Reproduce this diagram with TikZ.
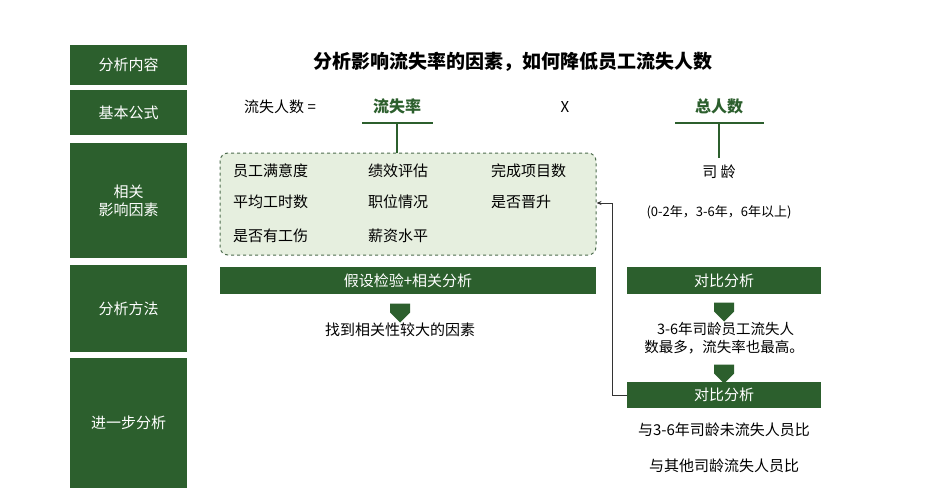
\documentclass[tikz,border=0pt]{standalone}
\usepackage{fontspec}
\newfontfamily\cjk{Noto Sans CJK SC}
\usetikzlibrary{arrows.meta,shapes.arrows}
\definecolor{dg}{HTML}{2C5F2D}
\definecolor{lg}{HTML}{E6EFDF}
\begin{document}
\begin{tikzpicture}[x=1pt,y=-1pt,font=\cjk\fontsize{15}{18}\selectfont,
 side/.style={fill=dg,text=white,inner sep=0,align=center},
 bar/.style={fill=dg,text=white,inner sep=0},
 dn/.style={single arrow,shape border rotate=270,fill=dg,minimum width=20pt,single arrow head extend=0pt,minimum height=19pt,inner sep=2pt},
 txt/.style={inner sep=0,align=center}]
\useasboundingbox (0,0) rectangle (931,500);
\fill[white] (0,0) rectangle (931,500);
\node[side,minimum width=117pt,minimum height=40pt] (s1) at (128.5,65) {分析内容};
\node[side,minimum width=117pt,minimum height=45pt] (s2) at (128.5,112.5) {基本公式};
\node[side,minimum width=117pt,minimum height=115pt] (s3) at (128.5,200.5) {相关\\影响因素};
\node[side,minimum width=117pt,minimum height=87pt] (s4) at (128.5,308.5) {分析方法};
\node[side,minimum width=117pt,minimum height=130pt] (s5) at (128.5,423) {进一步分析};
\node[txt,font=\cjk\bfseries\fontsize{19}{22}\selectfont] (t) at (513,62) {分析影响流失率的因素，如何降低员工流失人数};
\node[txt] (f) at (280,107) {流失人数 =};
\node[txt,text=dg,font=\cjk\bfseries\fontsize{16}{19}\selectfont] (r) at (397,106) {流失率};
\node[txt] (x) at (565,107) {X};
\node[txt,text=dg,font=\cjk\bfseries\fontsize{16}{19}\selectfont] (n) at (719,106) {总人数};
\draw[dg,line width=2pt] (362,123) -- (433,123);
\draw[dg,line width=2pt] (675,123) -- (764,123);
\node[draw=dg!60!gray,dashed,fill=lg,rounded corners=8pt,minimum width=376pt,minimum height=102pt,line width=1pt] (box) at (408,204) {};
\draw[dg,line width=1.5pt] (397,123) -- (397,153);
\draw[dg,line width=1.5pt] (719,123) -- (719,158);
\node[txt] (sl) at (719,172) {司 龄};
\node[txt,font=\cjk\fontsize{13}{16}\selectfont] (sr) at (719,212) {(0-2年，3-6年，6年以上)};
\foreach \t/\x/\y [count=\i] in {员工满意度/233/171,绩效评估/368/171,完成项目数/491/171,平均工时数/233/202,职位情况/368/202,是否晋升/491/202,是否有工伤/233/236,薪资水平/368/236}
  \node[txt,anchor=west] (i\i) at (\x,\y) {\t};
\node[bar,minimum width=376pt,minimum height=27pt] (b1) at (408,280.5) {假设检验+相关分析};
\node[dn] (a1) at (400,308) {};
\node[txt] (c1) at (400,330) {找到相关性较大的因素};
\node[bar,minimum width=194pt,minimum height=27pt] (b2) at (724,280.5) {对比分析};
\node[dn] (a2) at (724,307) {};
\node[txt,font=\cjk\fontsize{14.5}{18}\selectfont] (c2) at (724,338) {\ 3-6年司龄员工流失人\\数最多，流失率也最高。};
\node[dn] (a3) at (724,369) {};
\node[bar,minimum width=194pt,minimum height=26pt] (b3) at (724,395) {对比分析};
\node[txt] (c3) at (724,430) {与3-6年司龄未流失人员比};
\node[txt] (c4) at (724,466) {与其他司龄流失人员比};
\draw[-{Stealth[length=5pt,width=4pt]},line width=0.8pt,black!80] (b3.west) -| (612,203) -- (box.east |- 0,203);
\end{tikzpicture}
\end{document}
